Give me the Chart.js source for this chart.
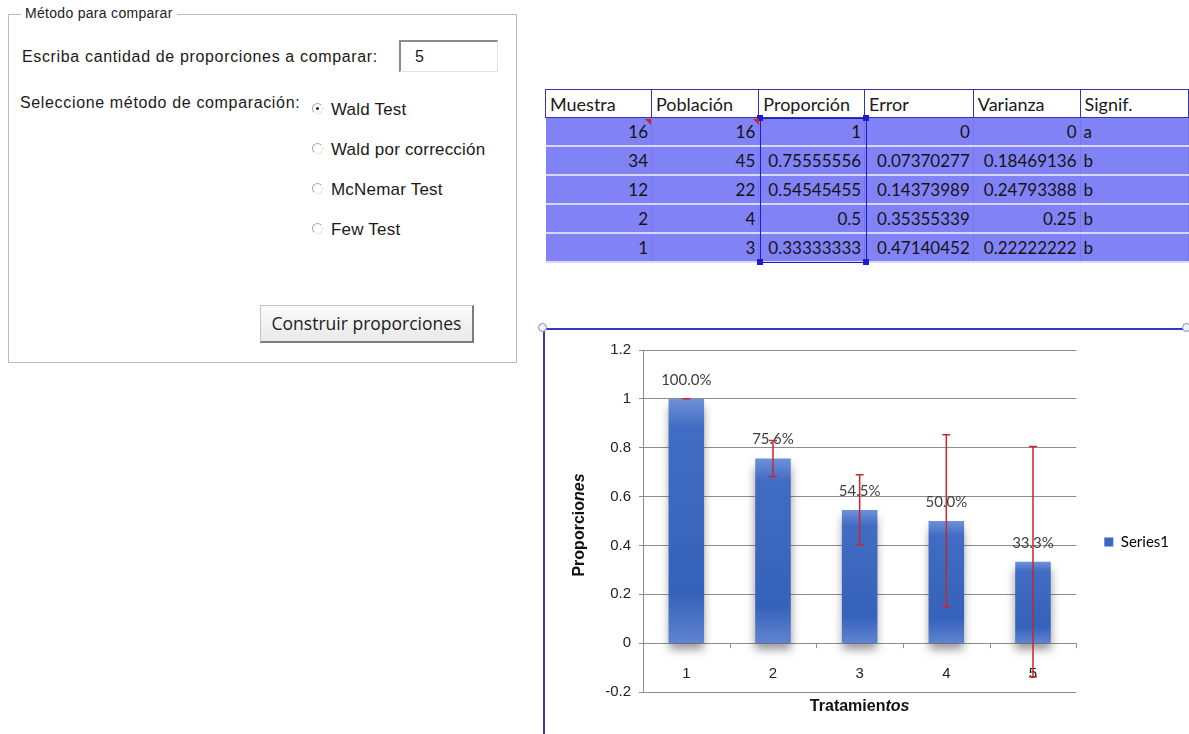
<!DOCTYPE html>
<html lang="es">
<head>
<meta charset="utf-8">
<title>Proporciones</title>
<script src="https://cdn.jsdelivr.net/npm/chart.js@4.4.1/dist/chart.umd.min.js"></script>
<style>
  html, body { margin: 0; padding: 0; }
  body {
    width: 1189px; height: 734px; overflow: hidden; position: relative;
    background: #fff; color: #1a1a1a;
    font-family: "Liberation Sans", Arial, sans-serif;
  }
  .abs { position: absolute; white-space: nowrap; }

  /* form panel */
  #panel { left: 8px; top: 14px; width: 507px; height: 347px; border: 1px solid #bcbcbc; box-shadow: 1px 1px 0 #fff inset; }
  #panel .leg { position: absolute; left: 12px; top: -10px; padding: 0 4px; background: #fff; font-size: 14px; letter-spacing: 0.3px; color: #222; }
  .lbl { font-size: 16px; line-height: 18px; letter-spacing: 0.65px; }
  #qty {
    left: 399px; top: 40px; width: 99px; height: 32px; box-sizing: border-box;
    border-top: 2px solid #8a8a8a; border-left: 2px solid #8a8a8a;
    border-right: 1px solid #e2e2e2; border-bottom: 1px solid #e2e2e2;
    font-size: 16px; line-height: 30px; padding-left: 14px;
  }
  .radio {
    width: 11px; height: 11px; box-sizing: border-box; border-radius: 50%;
    border: 1px solid #a8a8a8; border-right-color: #e6e6e6; border-bottom-color: #e6e6e6; background: #fff;
  }
  .radio.on::after {
    content: ""; position: absolute; left: 3px; top: 3px; width: 3px; height: 3px; border-radius: 50%; background: #222;
  }
  .opt { font-size: 17px; line-height: 20px; letter-spacing: 0.2px; }
  #btn {
    left: 260px; top: 305px; width: 214px; height: 38px; box-sizing: border-box;
    background: linear-gradient(#fbfbfb, #e9e9e9);
    border: 1px solid #c4c4c4; border-right: 2px solid #7d7d7d; border-bottom: 2px solid #7d7d7d;
    font-family: "Open Sans", "Noto Sans", sans-serif; font-size: 17.5px; color: #222;
    text-align: center; line-height: 34px;
  }

  /* table */
  #tbl { left: 545px; top: 89px; border-collapse: collapse; table-layout: fixed; font-family: Lato, "Open Sans", sans-serif; }
  #tbl th {
    height: 27px; padding: 0 4px; background: #fff; border: 1px solid #3434b2;
    font-weight: normal; font-size: 18px; text-align: left; color: #1a1a1a; overflow: hidden;
  }
  #tbl td {
    height: 27px; padding: 0 3px; background: #8282f7; font-size: 17px; text-align: right; color: #141414;
    border-bottom: 2px solid #d8d8fb; border-right: 1px solid #7777ec; overflow: hidden;
  }
  #tbl td:last-child { text-align: left; }
  #sel { left: 760px; top: 118px; width: 105px; height: 143px; border: 1px solid #1c1cc8; }
  .hnd { width: 6px; height: 6px; background: #1c1cc8; }
  .tri { width: 0; height: 0; border-top: 6px solid #d42020; border-left: 6px solid transparent; }

  /* chart */
  #frame { left: 543px; top: 328px; width: 700px; height: 500px; border-top: 2px solid #3636c2; border-left: 2px solid #3636c2; }
  .ring { width: 7px; height: 7px; border-radius: 50%; border: 1px solid #7f8db3; background: #eef2fa; }
  #wrap { left: 545px; top: 330px; width: 644px; height: 404px; }
</style>
</head>
<body>

<div id="panel" class="abs"><span class="leg">Método para comparar</span></div>
<div class="abs lbl" style="left:22px; top:48px;">Escriba cantidad de proporciones a comparar:</div>
<div id="qty" class="abs">5</div>
<div class="abs lbl" style="left:20px; top:94px;">Seleccione método de comparación:</div>
<div id="opts"></div>
<div id="btn" class="abs">Construir proporciones</div>

<table id="tbl" class="abs">
  <colgroup>
    <col style="width:107px"><col style="width:108px"><col style="width:106px">
    <col style="width:109px"><col style="width:107px"><col style="width:110px">
  </colgroup>
  <thead><tr id="head"></tr></thead>
  <tbody id="body"></tbody>
</table>
<div id="sel" class="abs"></div>
<div class="abs hnd" style="left:757px; top:115px;"></div>
<div class="abs hnd" style="left:863px; top:115px;"></div>
<div class="abs hnd" style="left:757px; top:259px;"></div>
<div class="abs hnd" style="left:863px; top:259px;"></div>
<div class="abs tri" style="left:645px; top:119px;"></div>
<div class="abs tri" style="left:753px; top:119px;"></div>

<div id="frame" class="abs"></div>
<div class="abs ring" style="left:538px; top:323px;"></div>
<div class="abs ring" style="left:1182px; top:323px;"></div>
<div id="wrap" class="abs"><canvas id="chart"></canvas></div>

<script>
// form options
const methods = ["Wald Test", "Wald por corrección", "McNemar Test", "Few Test"];

// table
const headers = ["Muestra", "Población", "Proporción", "Error", "Varianza", "Signif."];
const muestra = [16, 34, 12, 2, 1];
const poblacion = [16, 45, 22, 4, 3];
const proporcion = [1, 0.75555556, 0.54545455, 0.5, 0.33333333];
const error = [0, 0.07370277, 0.14373989, 0.35355339, 0.47140452];
const varianza = [0, 0.18469136, 0.24793388, 0.25, 0.22222222];
const signif = ["a", "b", "b", "b", "b"];

// chart
const tratamientos = ["1", "2", "3", "4", "5"];
const seriesName = "Series1";
const yMin = -0.2, yMax = 1.2, yStep = 0.2;

const opts = document.getElementById("opts");
methods.forEach((m, i) => {
  const cy = 110 + i * 40;
  opts.insertAdjacentHTML("beforeend",
    `<div class="abs radio${i === 0 ? " on" : ""}" style="left:312px; top:${cy - 7}px;"></div>` +
    `<div class="abs opt" style="left:331px; top:${cy - 10}px;">${m}</div>`);
});

document.getElementById("head").innerHTML = headers.map(h => `<th>${h}</th>`).join("");
const fmt = v => String(Number(v.toFixed(8)));
document.getElementById("body").innerHTML = muestra.map((m, i) =>
  `<tr><td>${m}</td><td>${poblacion[i]}</td><td>${fmt(proporcion[i])}</td>` +
  `<td>${fmt(error[i])}</td><td>${fmt(varianza[i])}</td><td>${signif[i]}</td></tr>`).join("");

// draws "Tratamien" + italic "tos" style titles
function mixedText(ctx, parts, size) {
  const fontOf = p => `${p.italic ? "italic " : ""}bold ${size}px "Liberation Sans", Arial, sans-serif`;
  let total = 0;
  parts.forEach(p => { ctx.font = fontOf(p); total += ctx.measureText(p.t).width; });
  let x = -total / 2;
  parts.forEach(p => {
    ctx.font = fontOf(p);
    ctx.fillText(p.t, x, 0);
    x += ctx.measureText(p.t).width;
  });
}

const extras = {
  id: "extras",
  beforeDatasetsDraw(chart) {
    const ctx = chart.ctx;
    ctx.save();
    ctx.shadowColor = "rgba(50,50,50,0.5)";
    ctx.shadowBlur = 9;
    ctx.shadowOffsetY = 7;
  },
  afterDatasetsDraw(chart) {
    const { ctx, scales: { x, y } } = chart;
    ctx.restore();
    const zero = y.getPixelForValue(0);

    // category tick marks and labels on the zero line
    ctx.save();
    ctx.strokeStyle = "#8c8c8c";
    ctx.lineWidth = 1;
    ctx.beginPath();
    for (let i = 0; i <= tratamientos.length; i++) {
      const px = Math.round(x.getPixelForValue(i - 0.5)) + 0.5;
      ctx.moveTo(px, zero);
      ctx.lineTo(px, zero + 5);
    }
    ctx.stroke();
    ctx.fillStyle = "#222";
    ctx.font = '15px "Liberation Sans", Arial, sans-serif';
    ctx.textAlign = "center";
    ctx.textBaseline = "middle";
    tratamientos.forEach((t, i) => ctx.fillText(t, x.getPixelForValue(i), zero + 31));

    // percentage labels
    ctx.fillStyle = "#404040";
    ctx.font = '15px Lato, "Open Sans", sans-serif';
    chart.getDatasetMeta(0).data.forEach((bar, i) => {
      ctx.fillText((proporcion[i] * 100).toFixed(1) + "%", bar.x, bar.y - 19);
    });

    // error bars
    ctx.strokeStyle = "#c5282f";
    ctx.lineWidth = 1.5;
    proporcion.forEach((v, i) => {
      const cx = x.getPixelForValue(i);
      const top = y.getPixelForValue(v + error[i]);
      const bot = y.getPixelForValue(v - error[i]);
      ctx.beginPath();
      ctx.moveTo(cx, top); ctx.lineTo(cx, bot);
      ctx.moveTo(cx - 4, top); ctx.lineTo(cx + 4, top);
      ctx.moveTo(cx - 4, bot); ctx.lineTo(cx + 4, bot);
      ctx.stroke();
    });
    ctx.restore();
  },
  afterDraw(chart) {
    const { ctx, chartArea: a } = chart;
    ctx.save();
    ctx.fillStyle = "#111";
    ctx.textBaseline = "middle";
    ctx.translate((a.left + a.right) / 2, a.bottom + 15);
    mixedText(ctx, [{ t: "Tratamien" }, { t: "tos", italic: true }], 16);
    ctx.restore();

    ctx.save();
    ctx.fillStyle = "#111";
    ctx.textBaseline = "middle";
    ctx.translate(a.left - 63, (a.top + a.bottom) / 2 + 4);
    ctx.rotate(-Math.PI / 2);
    mixedText(ctx, [{ t: "Proporcio" }, { t: "nes", italic: true }], 16);
    ctx.restore();
  }
};

function barFill(context) {
  const chart = context.chart;
  const y = chart.scales.y;
  if (context.type !== "data" || !chart.chartArea || !y) return "#3b66c0";
  const top = y.getPixelForValue(context.raw);
  const bot = y.getPixelForValue(0);
  if (!isFinite(top) || Math.abs(bot - top) < 1) return "#3b66c0";
  const g = chart.ctx.createLinearGradient(0, top, 0, bot);
  g.addColorStop(0, "#6e91d9");
  g.addColorStop(0.12, "#416cc3");
  g.addColorStop(0.8, "#3562ba");
  g.addColorStop(1, "#6184d0");
  return g;
}

// Excel "General" style: 1, 0.8, 0, -0.2
const tickLabel = v => {
  const r = Math.round(v * 10) / 10;
  return String(r === 0 ? 0 : r);
};

Chart.defaults.font.family = '"Liberation Sans", Arial, sans-serif';

new Chart(document.getElementById("chart"), {
  type: "bar",
  data: {
    labels: tratamientos,
    datasets: [{
      label: seriesName,
      data: proporcion,
      backgroundColor: barFill,
      borderWidth: 0,
      barPercentage: 0.41,
      categoryPercentage: 1
    }]
  },
  options: {
    responsive: true,
    maintainAspectRatio: false,
    animation: false,
    layout: { padding: { top: 20, right: 10, bottom: 0, left: 0 } },
    plugins: {
      tooltip: { enabled: false },
      legend: {
        position: "right",
        labels: {
          padding: 28,
          boxWidth: 9,
          boxHeight: 9,
          color: "#333",
          font: { family: 'Lato, "Open Sans", sans-serif', size: 15 },
          generateLabels: () => [{
            text: seriesName, fillStyle: "#3d66c2", strokeStyle: "#3d66c2",
            lineWidth: 0, hidden: false, datasetIndex: 0
          }]
        }
      }
    },
    scales: {
      x: {
        grid: { display: false, drawTicks: false },
        border: { display: false },
        ticks: { display: false },
        afterFit: s => { s.height = 42; }
      },
      y: {
        min: yMin,
        max: yMax,
        ticks: { stepSize: yStep, padding: 8, color: "#222", font: { size: 15 }, callback: tickLabel },
        grid: { color: "#8c8c8c", tickLength: 4 },
        border: { color: "#8c8c8c" },
        afterFit: s => { s.width = 98; }
      }
    }
  },
  plugins: [extras]
});
</script>
</body>
</html>
